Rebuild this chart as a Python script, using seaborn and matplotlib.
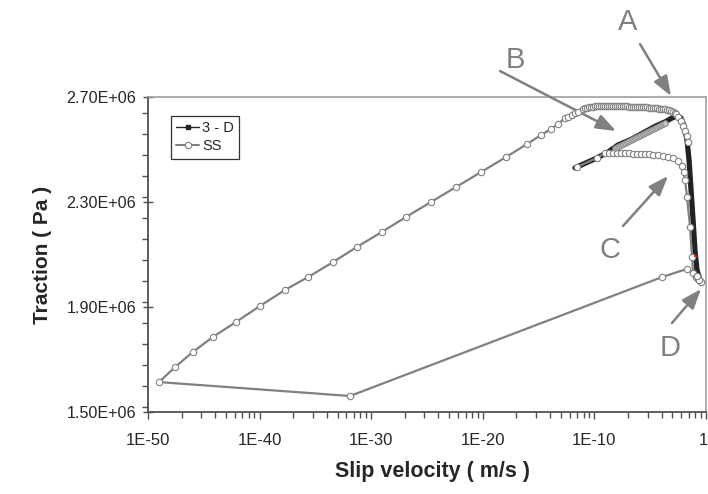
import numpy as np
import pandas as pd
import seaborn as sns
import matplotlib
matplotlib.use("Agg")
import matplotlib.pyplot as plt
from matplotlib.ticker import FixedLocator, FuncFormatter, MultipleLocator
from matplotlib.lines import Line2D
import matplotlib.transforms as mtransforms

# ---------------- data (slip velocity as log10(m/s), traction in 1E+06 Pa) -------------
d3_log10_v = [-11.74, -10.75, -9.77, -8.78, -7.89, -6.63, -5.47, -4.48, -3.67, -3.05,
              -2.60, -2.24, -1.97, -1.70, -1.52, -1.34, -1.16, -0.99, -0.81, -0.54]
d3_traction = [2.430, 2.449, 2.468, 2.490, 2.517, 2.540, 2.567, 2.590, 2.605, 2.620,
               2.628, 2.620, 2.590, 2.536, 2.460, 2.346, 2.231, 2.117, 2.041, 2.003]

# SS main path: start -> C branch -> D -> low-velocity excursion -> ramp -> plateau -> A
ss_log10_v = [
    -11.56, -9.77, -9.05, -8.69, -8.33, -7.97, -7.62, -7.26, -6.90, -6.54,
    -6.18, -5.82, -5.47, -5.11, -4.75, -4.30, -3.85, -3.41, -2.96, -2.51,
    -2.15, -1.97, -1.88, -1.70, -1.43, -1.25, -1.16, -0.90, -0.72, -0.54,
    -0.45, -0.63, -0.81, -1.70, -3.94, -31.90, -49.01, -47.58, -45.97, -44.18,
    -42.11, -39.96, -37.72, -35.66, -33.42, -31.27, -29.03, -26.88, -24.64, -22.40,
    -20.16, -17.92, -16.04, -14.78, -13.89, -13.26, -12.63, -12.37, -12.01, -11.74,
    -11.47,
    -11.02, -10.84, -10.66, -10.48, -10.30, -10.13, -9.95, -9.77, -9.59, -9.41,
    -9.23, -9.05, -8.87, -8.69, -8.51, -8.33, -8.15, -7.97, -7.79, -7.61,
    -7.44, -7.26, -7.08, -6.90, -6.72, -6.54, -6.36, -6.18, -6.00, -5.82,
    -5.64, -5.47, -5.29, -5.11, -4.93, -4.75, -4.57, -4.39, -4.21, -4.03,
    -3.85, -3.67, -3.49, -3.31, -3.13, -2.96,
    -2.78, -2.69, -2.51, -2.24, -2.06, -1.88, -1.70, -1.61]
ss_traction = [
    2.433, 2.468, 2.487, 2.487, 2.487, 2.487, 2.487, 2.485, 2.485, 2.483,
    2.483, 2.483, 2.481, 2.481, 2.479, 2.479, 2.477, 2.473, 2.468, 2.456,
    2.437, 2.414, 2.384, 2.319, 2.205, 2.090, 2.030, 2.014, 2.007, 1.999,
    1.995, 2.003, 2.018, 2.045, 2.014, 1.561, 1.614, 1.671, 1.729, 1.786,
    1.843, 1.904, 1.965, 2.014, 2.071, 2.129, 2.186, 2.243, 2.300, 2.357,
    2.414, 2.471, 2.521, 2.555, 2.578, 2.597, 2.620, 2.624, 2.631, 2.639,
    2.643,
    2.654, 2.657, 2.659, 2.661, 2.662, 2.663, 2.664, 2.665, 2.666, 2.666,
    2.666, 2.667, 2.667, 2.667, 2.667, 2.667, 2.667, 2.667, 2.666, 2.666,
    2.665, 2.664, 2.664, 2.663, 2.663, 2.663, 2.662, 2.662, 2.661, 2.661,
    2.660, 2.660, 2.660, 2.659, 2.658, 2.658, 2.658, 2.657, 2.656, 2.655,
    2.655, 2.654, 2.652, 2.650, 2.647, 2.644,
    2.640, 2.635, 2.624, 2.609, 2.590, 2.570, 2.551, 2.529]

# SS branch lying on the 3-D curve (B)
ssb_log10_v = [-8.15, -7.97, -7.79, -7.61, -7.44, -7.26, -7.08, -6.90, -6.72, -6.54,
               -6.36, -6.18, -6.00, -5.82, -5.64, -5.47, -5.29, -5.11, -4.93, -4.75,
               -4.57, -4.39, -4.21, -4.03, -3.85, -3.67]
ssb_traction = [2.506, 2.510, 2.514, 2.517, 2.521, 2.525, 2.529, 2.533, 2.536, 2.540,
                2.544, 2.548, 2.552, 2.555, 2.559, 2.563, 2.567, 2.571, 2.575, 2.578,
                2.582, 2.586, 2.590, 2.594, 2.597, 2.601]

# red highlighted point on the 3-D curve
red_log10_v = [-0.90]
red_traction = [2.094]

x_tick_exp = [-50, -40, -30, -20, -10, 0]
x_tick_labels = ["1E-50", "1E-40", "1E-30", "1E-20", "1E-10", "1"]
y_ticks = [1.50, 1.90, 2.30, 2.70]

df3 = pd.DataFrame({"v": 10.0 ** np.array(d3_log10_v), "t": np.array(d3_traction) * 1e6})
dss = pd.DataFrame({"v": 10.0 ** np.array(ss_log10_v), "t": np.array(ss_traction) * 1e6})
dssb = pd.DataFrame({"v": 10.0 ** np.array(ssb_log10_v), "t": np.array(ssb_traction) * 1e6})
dred = pd.DataFrame({"v": 10.0 ** np.array(red_log10_v), "t": np.array(red_traction) * 1e6})

# ---------------- style ----------------
sns.set_style("white")
plt.rcParams["font.family"] = ["Liberation Sans", "DejaVu Sans"]

W, H = 708, 494
fig = plt.figure(figsize=(W / 100, H / 100), dpi=100)
ax = fig.add_axes([148 / W, 1 - 412 / H, (706 - 148) / W, (412 - 97) / H])

GRAY = "#808080"
BLACK3 = "#222222"

sns.lineplot(data=df3, x="v", y="t", sort=False, estimator=None, ax=ax,
             color=BLACK3, lw=3.8, solid_capstyle="round", zorder=3)
sns.lineplot(data=dss, x="v", y="t", sort=False, estimator=None, ax=ax,
             color=GRAY, lw=1.6, marker="o", markersize=4.6, markerfacecolor="white",
             markeredgecolor=GRAY, markeredgewidth=0.8, zorder=4)
sns.lineplot(data=dssb, x="v", y="t", sort=False, estimator=None, ax=ax,
             color=GRAY, lw=2.4, marker="o", markersize=4.0, markerfacecolor="#c8c8c8",
             markeredgecolor=GRAY, markeredgewidth=0.7, zorder=4)
sns.scatterplot(data=dred, x="v", y="t", ax=ax, color="red", marker="_", s=12,
                linewidth=1.2, zorder=5)

ax.set_xscale("log")
ax.set_xlim(1e-50, 1)
ax.set_ylim(1.5e6, 2.7e6)

ax.xaxis.set_major_locator(FixedLocator([10.0 ** e for e in x_tick_exp]))
ax.xaxis.set_major_formatter(FuncFormatter(
    lambda v, p: x_tick_labels[x_tick_exp.index(int(round(np.log10(v))))]
    if int(round(np.log10(v))) in x_tick_exp else ""))
minor_pos = [10.0 ** (e + 10 * np.log10(k)) for e in x_tick_exp[:-1] for k in range(2, 10)]
ax.xaxis.set_minor_locator(FixedLocator(minor_pos))
ax.xaxis.set_minor_formatter(FuncFormatter(lambda v, p: ""))

ax.yaxis.set_major_locator(FixedLocator([t * 1e6 for t in y_ticks]))
ax.yaxis.set_minor_locator(MultipleLocator(0.08e6))
ax.yaxis.set_major_formatter(FuncFormatter(lambda v, p: f"{v / 1e6:.2f}E+06"))

ax.tick_params(axis="y", which="major", direction="inout", length=7, width=1,
               color="#505050", labelsize=11.6, pad=5, left=True)
ax.tick_params(axis="y", which="minor", direction="out", length=4, width=1,
               color="#505050", left=True)
ax.tick_params(axis="x", which="major", direction="out", length=5, width=1,
               color="#505050", labelsize=12, pad=10, bottom=True)
ax.tick_params(axis="x", which="minor", direction="out", length=4, width=1,
               color="#505050", bottom=True)

for s in ["left", "bottom"]:
    ax.spines[s].set_color("#505050")
    ax.spines[s].set_linewidth(1.3)
for s in ["top", "right"]:
    ax.spines[s].set_color("#a0a0a0")
    ax.spines[s].set_linewidth(1.2)

ax.set_xlabel("Slip velocity ( m/s )", fontsize=15.5, fontweight="bold", labelpad=8)
ax.set_ylabel("Traction ( Pa )", fontsize=15, fontweight="bold", labelpad=10)
ax.xaxis.set_label_coords(0.51, -0.155)

fig.canvas.draw()
last = ax.xaxis.get_majorticklabels()[-1]
last.set_transform(last.get_transform() + mtransforms.ScaledTranslation(-3 / 100, 0, fig.dpi_scale_trans))

handles = [
    Line2D([], [], color=BLACK3, lw=1.0, marker="s", markersize=2.2),
    Line2D([], [], color=GRAY, lw=1.5, marker="o", markersize=4.6,
           markerfacecolor="white", markeredgecolor=GRAY, markeredgewidth=0.8),
]
leg = ax.legend(handles, ["3 - D", "SS"], loc="upper left",
                bbox_to_anchor=(23 / 558, (412 - 116) / 315), borderaxespad=0,
                fontsize=10.5, frameon=True, fancybox=False, handlelength=1.6,
                handletextpad=0.2, borderpad=0.35, labelspacing=0.3)
leg.get_frame().set_edgecolor("black")
leg.get_frame().set_linewidth(0.9)


# ---------------- annotations (figure pixel positions) ----------------
def fp(x, y):
    return (x, H - y)


arrow_kw = dict(arrowstyle="-|>,head_length=1.2,head_width=0.45", lw=1.8,
                color=GRAY, shrinkA=0, shrinkB=0)
labels = [("A", (628, 22), (640, 44), (671, 96)),
          ("B", (515, 60), (500, 71), (616, 131)),
          ("C", (610, 250), (623, 226), (668, 176)),
          ("D", (670, 348), (672, 323), (701, 289))]
for txt, tpos, start, tip in labels:
    fig.text(tpos[0] / W, 1 - tpos[1] / H, txt, fontsize=21, color=GRAY,
             ha="center", va="center")
    ax.annotate("", xy=fp(*tip), xytext=fp(*start), xycoords="figure pixels",
                textcoords="figure pixels", arrowprops=arrow_kw, annotation_clip=False)

fig.savefig("out.png", dpi=100)
